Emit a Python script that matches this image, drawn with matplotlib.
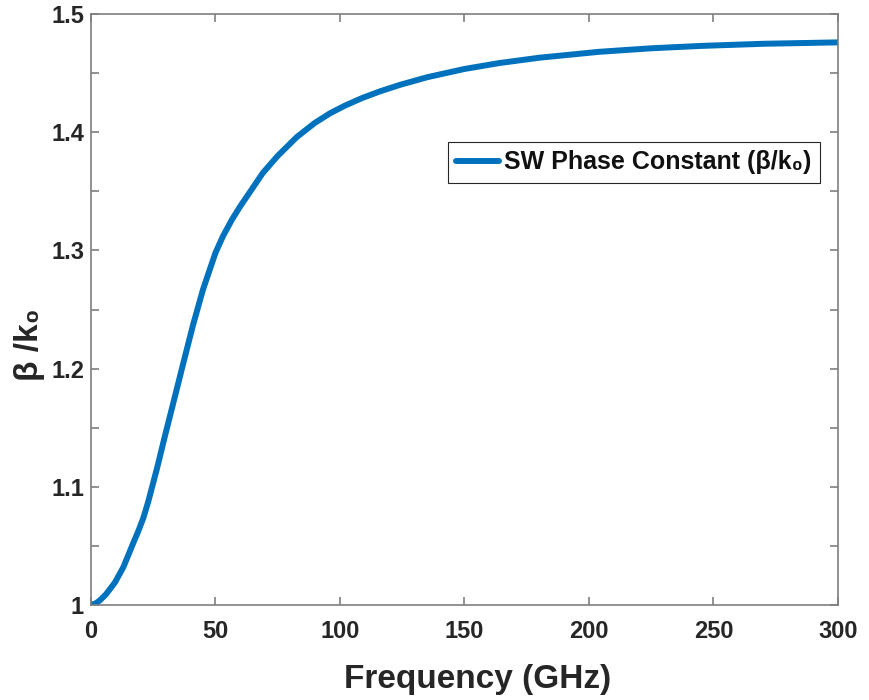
import matplotlib

matplotlib.use("Agg")

import matplotlib.pyplot as plt
from matplotlib.ticker import MultipleLocator

plt.rcParams["font.family"] = ["Liberation Sans", "DejaVu Sans"]
plt.rcParams["font.weight"] = "bold"

# values
freq_ghz = [0, 2, 3.6, 6, 9.6, 13, 16.5, 19, 21, 23, 26.5, 29.7, 33, 37, 41, 45,
            50, 53, 56.6, 60, 65, 69, 75, 82.7, 90, 96, 102, 109, 116, 124, 135,
            150, 164, 180, 204, 225, 245, 270, 300]
beta_k0 = [1.0, 1.0015, 1.004, 1.009, 1.019, 1.032, 1.05, 1.0625, 1.0735, 1.0875,
           1.1155, 1.143, 1.1705, 1.204, 1.237, 1.267, 1.298, 1.312, 1.326, 1.3375,
           1.353, 1.3655, 1.380, 1.396, 1.408, 1.416, 1.4225, 1.429, 1.4345, 1.440,
           1.4465, 1.4535, 1.4585, 1.463, 1.468, 1.471, 1.473, 1.4748, 1.476]
x_ticks = [0, 50, 100, 150, 200, 250, 300]
y_ticks = [1.0, 1.1, 1.2, 1.3, 1.4, 1.5]
y_tick_labels = ["1", "1.1", "1.2", "1.3", "1.4", "1.5"]

fig = plt.figure(figsize=(8.69, 7.0), dpi=100)
ax = fig.add_axes([0.1047, 0.1357, 0.8596, 0.8443])

ax.plot(freq_ghz, beta_k0, color="#0072BD", linewidth=4.3,
        solid_capstyle="round", solid_joinstyle="round",
        label="SW Phase Constant (β/k₀)")

ax.set_xlim(0, 300)
ax.set_ylim(1.0, 1.5)
ax.set_xticks(x_ticks)
ax.set_yticks(y_ticks)
ax.set_yticklabels(y_tick_labels)
ax.yaxis.set_minor_locator(MultipleLocator(0.05))

ax.tick_params(which="both", direction="in", top=True, right=True, length=6,
               width=1.2, color="#7f7f7f", labelsize=17, labelcolor="#262626")
ax.tick_params(axis="x", pad=11)
ax.tick_params(axis="y", pad=5)
for spine in ax.spines.values():
    spine.set_color("#7f7f7f")
    spine.set_linewidth(1.2)
for label in ax.get_xticklabels() + ax.get_yticklabels():
    label.set_fontweight("bold")

ax.set_xlabel("Frequency (GHz)", fontsize=24, fontweight="bold", color="#262626")
ax.set_ylabel("β /k₀", fontsize=24, fontweight="bold", color="#262626")
ax.xaxis.set_label_coords(0.518, -0.100)
ax.yaxis.set_label_coords(-0.062, 0.44)

leg = ax.legend(loc="upper right", bbox_to_anchor=(0.976, 0.784), fancybox=False,
                edgecolor="#262626", fontsize=18, handlelength=1.7, borderpad=0.35,
                handletextpad=0.2, borderaxespad=0, framealpha=1)
leg.get_frame().set_linewidth(0.8)
for text in leg.get_texts():
    text.set_fontweight("bold")
    text.set_color("#111111")

fig.savefig("out.png", dpi=100, facecolor="white")
